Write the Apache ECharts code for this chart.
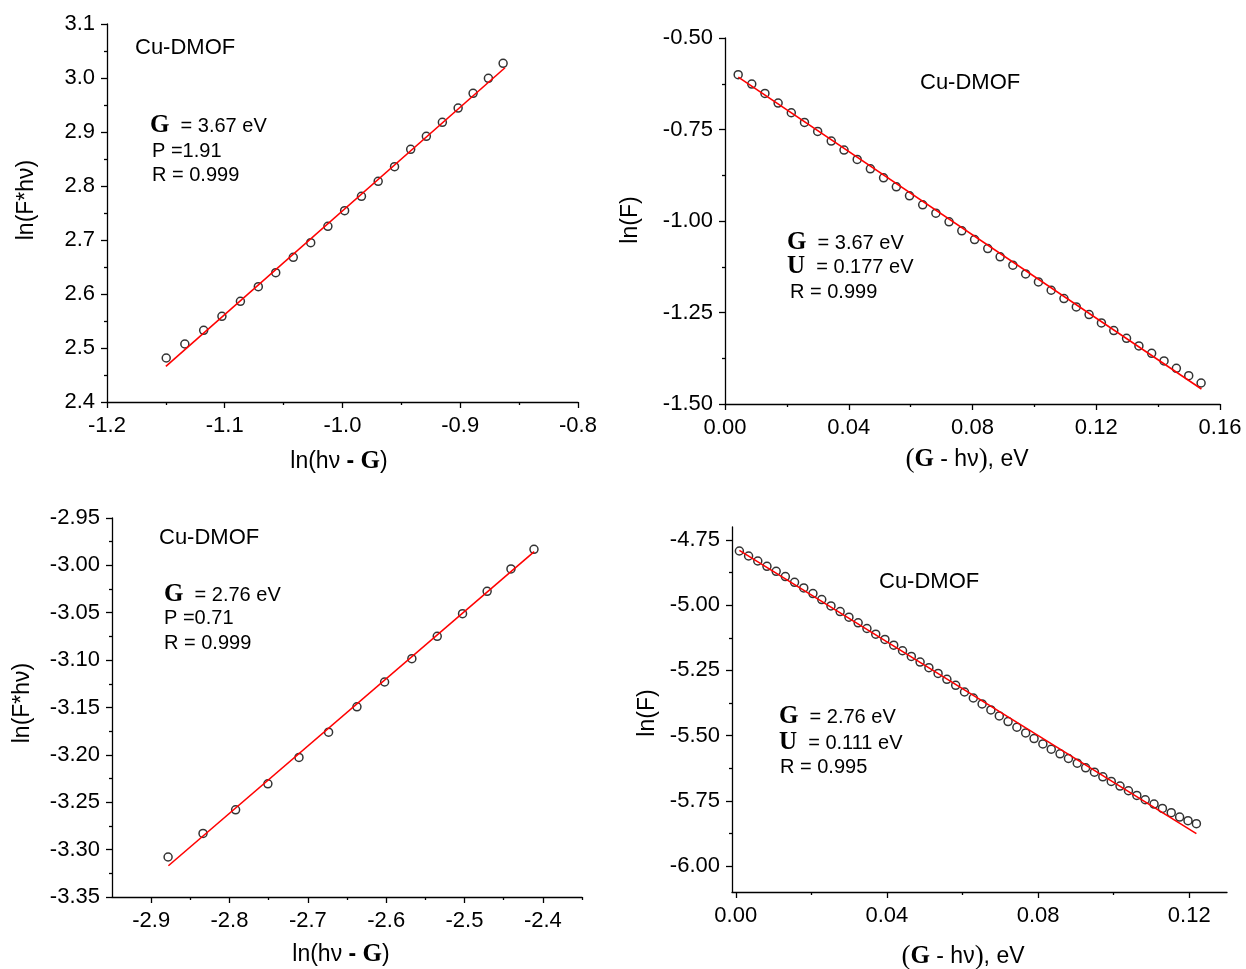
<!DOCTYPE html>
<html>
<head>
<meta charset="utf-8">
<script src="https://cdn.jsdelivr.net/npm/echarts@6/dist/echarts.min.js"></script>
<style>html,body{margin:0;padding:0;background:#fff;}#c{width:1246px;height:969px;}</style>
</head>
<body>
<div id="c"></div>
<script>
// ---------- Panel 1: ln(F*hv) vs ln(hv - G), G = 3.67 eV ----------
const p1X = [-1.1497,-1.1339,-1.1179,-1.1024,-1.0867,-1.0715,-1.0567,-1.0418,-1.0270,-1.0124,-0.9982,-0.9839,-0.9697,-0.9558,-0.9421,-0.9288,-0.9152,-0.9018,-0.8891,-0.8761,-0.8636];
const p1Y = [2.4815,2.5074,2.5327,2.5586,2.5864,2.6136,2.6395,2.6679,2.6951,2.7253,2.7543,2.7809,2.8086,2.8358,2.8679,2.8920,2.9179,2.9444,2.9716,2.9994,3.0272];
const p1FitX = [-1.150, -0.862];
const p1FitY = [2.466, 3.019];
const p1XTicks = [-1.2,-1.1,-1.0,-0.9,-0.8];
const p1XMinor = [-1.15,-1.05,-0.95,-0.85];
const p1YTicks = [2.4,2.5,2.6,2.7,2.8,2.9,3.0,3.1];
const p1YMinor = [2.45,2.55,2.65,2.75,2.85,2.95,3.05];

// ---------- Panel 2: ln(F) vs (G - hv), G = 3.67 eV ----------
const p2X = [0.00426,0.00865,0.01291,0.01717,0.02143,0.02569,0.02995,0.03434,0.03847,0.04273,0.04699,0.05125,0.05538,0.05964,0.06390,0.06816,0.07242,0.07654,0.08067,0.08493,0.08893,0.09305,0.09718,0.10131,0.10543,0.10956,0.11355,0.11768,0.12167,0.12567,0.12979,0.13379,0.13791,0.14191,0.14590,0.14989,0.15389];
const p2Y = [-0.6003,-0.6258,-0.6513,-0.6778,-0.7042,-0.7306,-0.7553,-0.7817,-0.8063,-0.8318,-0.8573,-0.8819,-0.9065,-0.9312,-0.9558,-0.9786,-1.0023,-1.0269,-1.0506,-1.0752,-1.0980,-1.1208,-1.1445,-1.1664,-1.1892,-1.2120,-1.2347,-1.2557,-1.2785,-1.2995,-1.3204,-1.3414,-1.3614,-1.3824,-1.4025,-1.4225,-1.4426];
const p2FitX = [0.0043, 0.1540];
const p2FitY = [-0.6067, -1.4590];
const p2XTicks = [0,0.04,0.08,0.12,0.16];
const p2XMinor = [0.02,0.06,0.10,0.14];
const p2YTicks = [-1.5,-1.25,-1.0,-0.75,-0.5];
const p2YMinor = [-1.375,-1.125,-0.875,-0.625];

// ---------- Panel 3: ln(F*hv) vs ln(hv - G), G = 2.76 eV ----------
const p3X = [-2.8784,-2.8338,-2.7922,-2.7510,-2.7113,-2.6735,-2.6373,-2.6020,-2.5672,-2.5348,-2.5025,-2.4711,-2.4407,-2.4113];
const p3Y = [-3.3078,-3.2829,-3.2580,-3.2305,-3.2027,-3.1760,-3.1493,-3.1231,-3.0985,-3.0749,-3.0510,-3.0274,-3.0038,-2.9830];
const p3FitX = [-2.878, -2.411];
const p3FitY = [-3.317, -2.9855];
const p3XTicks = [-2.9,-2.8,-2.7,-2.6,-2.5,-2.4];
const p3XMinor = [-2.85,-2.75,-2.65,-2.55,-2.45,-2.35];
const p3YTicks = [-3.35,-3.30,-3.25,-3.20,-3.15,-3.10,-3.05,-3.00,-2.95];
const p3YMinor = [-3.325,-3.275,-3.225,-3.175,-3.125,-3.075,-3.025,-2.975];

// ---------- Panel 4: ln(F) vs (G - hv), G = 2.76 eV ----------
const p4X = [0.00095,0.00339,0.00582,0.00825,0.01069,0.01312,0.01556,0.01799,0.02042,0.02275,0.02519,0.02762,0.02995,0.03238,0.03471,0.03704,0.03947,0.04180,0.04413,0.04646,0.04878,0.05111,0.05354,0.05587,0.05820,0.06053,0.06286,0.06519,0.06751,0.06974,0.07206,0.07439,0.07672,0.07894,0.08127,0.08349,0.08582,0.08804,0.09037,0.09259,0.09492,0.09714,0.09937,0.10169,0.10392,0.10614,0.10836,0.11069,0.11291,0.11524,0.11746,0.11968,0.12190];
const p4Y = [-4.7921,-4.8112,-4.8304,-4.8508,-4.8699,-4.8903,-4.9120,-4.9337,-4.9554,-4.9783,-5.0026,-5.0242,-5.0459,-5.0676,-5.0893,-5.1110,-5.1314,-5.1531,-5.1747,-5.1964,-5.2181,-5.2398,-5.2615,-5.2844,-5.3074,-5.3329,-5.3559,-5.3788,-5.4018,-5.4247,-5.4464,-5.4681,-5.4898,-5.5115,-5.5319,-5.5523,-5.5702,-5.5880,-5.6059,-5.6237,-5.6403,-5.6582,-5.6760,-5.6939,-5.7117,-5.7296,-5.7462,-5.7628,-5.7793,-5.7959,-5.8125,-5.8265,-5.8380];
const p4FitX = [0.00095, 0.1219];
const p4FitY = [-4.7895, -5.8760];
const p4XTicks = [0,0.04,0.08,0.12];
const p4XMinor = [0.02,0.06,0.10];
const p4YTicks = [-6.0,-5.75,-5.5,-5.25,-5.0,-4.75];
const p4YMinor = [-5.875,-5.625,-5.375,-5.125,-4.875];

const SANS = 'Liberation Sans';
const SERIF = 'Liberation Serif';

const panels = [
  {grid:{left:107, top:24, width:471, height:378}, x:[-1.2,-0.8], y:[2.4,3.1],
   xt:p1XTicks, xm:p1XMinor, yt:p1YTicks, ym:p1YMinor, xd:1, yd:1, X:p1X, Y:p1Y, fx:p1FitX, fy:p1FitY},
  {grid:{left:725, top:38, width:495, height:366}, x:[0,0.16], y:[-1.5,-0.5],
   xt:p2XTicks, xm:p2XMinor, yt:p2YTicks, ym:p2YMinor, xd:2, yd:2, X:p2X, Y:p2Y, fx:p2FitX, fy:p2FitY},
  {grid:{left:112, top:518, width:470, height:379}, x:[-2.95,-2.35], y:[-3.35,-2.95],
   xt:p3XTicks, xm:p3XMinor, yt:p3YTicks, ym:p3YMinor, xd:1, yd:2, X:p3X, Y:p3Y, fx:p3FitX, fy:p3FitY},
  {grid:{left:732, top:527, width:495, height:365}, x:[-0.001,0.130], y:[-6.10,-4.70],
   xt:p4XTicks, xm:p4XMinor, yt:p4YTicks, ym:p4YMinor, xd:2, yd:2, X:p4X, Y:p4Y, fx:p4FitX, fy:p4FitY}
];

const lineStyle = {color:'#000', width:1.3};
function axes(gi, dim, range, major, minor, dec) {
  const pos = dim === 'x' ? 'bottom' : 'left';
  const main = {
    type:'value', gridIndex:gi, position:pos, min:range[0], max:range[1],
    axisLine:{show:true, onZero:false, lineStyle:lineStyle},
    axisTick:{show:true, inside:false, length:6, lineStyle:lineStyle, customValues:major},
    axisLabel:{show:true, customValues:major, margin: dim === 'x' ? 13 : 12,
      fontFamily:SANS, fontSize:22, color:'#000',
      formatter:function(v){ return v.toFixed(dec); }},
    splitLine:{show:false}
  };
  const sub = {
    type:'value', gridIndex:gi, position:pos, min:range[0], max:range[1],
    axisLine:{show:false, onZero:false},
    axisTick:{show:true, inside:false, length:3, lineStyle:lineStyle, customValues:minor},
    axisLabel:{show:false},
    splitLine:{show:false}
  };
  return [main, sub];
}

const grids = [], xAxes = [], yAxes = [], series = [];
panels.forEach(function(p, i){
  grids.push(Object.assign({containLabel:false}, p.grid));
  xAxes.push.apply(xAxes, axes(i, 'x', p.x, p.xt, p.xm, p.xd));
  yAxes.push.apply(yAxes, axes(i, 'y', p.y, p.yt, p.ym, p.yd));
  series.push({
    type:'scatter', xAxisIndex:2*i, yAxisIndex:2*i,
    data:p.X.map(function(v,k){ return [v, p.Y[k]]; }),
    symbol:'circle', symbolSize:8,
    itemStyle:{color:'rgba(255,255,255,0)', borderColor:'#000', borderWidth:1.5},
    z:2
  });
  series.push({
    type:'line', xAxisIndex:2*i, yAxisIndex:2*i,
    data:p.fx.map(function(v,k){ return [v, p.fy[k]]; }),
    showSymbol:false, symbol:'none',
    lineStyle:{color:'#ff0000', width:1.6},
    z:3
  });
});

const richBase = {
  g:{fontFamily:SERIF, fontWeight:'bold', fontSize:25, fill:'#000'},
  p:{fontFamily:SERIF, fontSize:27, fill:'#000'},
  d:{fontFamily:SANS, fontWeight:'bold', fontSize:23, fill:'#000'}
};
function txt(x, y, text, size, opts) {
  opts = opts || {};
  return {
    type:'text', x:x, y:y, rotation: opts.rot || 0, z:10,
    style:{
      text:text, font: size + 'px "' + SANS + '"', fill:'#000',
      align: opts.align || 'left', verticalAlign:'middle',
      textAlign: opts.align || 'left', textVerticalAlign:'middle',
      rich: richBase
    }
  };
}

const graphics = [
  // panel 1
  txt(135, 48, 'Cu-DMOF', 22),
  txt(150, 126, '{g|G}  = 3.67 eV', 20),
  txt(152, 151, 'P =1.91', 20),
  txt(152, 175, 'R = 0.999', 20),
  txt(339, 462, 'ln(hν {d|-} {g|G})', 23, {align:'center'}),
  txt(27, 200, 'ln(F*hν)', 23, {align:'center', rot:Math.PI/2}),
  // panel 2
  txt(920, 83, 'Cu-DMOF', 22),
  txt(787, 243, '{g|G}  = 3.67 eV', 20),
  txt(787, 267, '{g|U}  = 0.177 eV', 20),
  txt(790, 292, 'R = 0.999', 20),
  txt(967, 460, '{p|(}{g|G} - hν{p|)}, eV', 23, {align:'center'}),
  txt(631, 220, 'ln(F)', 23, {align:'center', rot:Math.PI/2}),
  // panel 3
  txt(159, 538, 'Cu-DMOF', 22),
  txt(164, 595, '{g|G}  = 2.76 eV', 20),
  txt(164, 618, 'P =0.71', 20),
  txt(164, 643, 'R = 0.999', 20),
  txt(341, 955, 'ln(hν {d|-} {g|G})', 23, {align:'center'}),
  txt(23, 703, 'ln(F*hν)', 23, {align:'center', rot:Math.PI/2}),
  // panel 4
  txt(879, 582, 'Cu-DMOF', 22),
  txt(779, 717, '{g|G}  = 2.76 eV', 20),
  txt(779, 743, '{g|U}  = 0.111 eV', 20),
  txt(780, 767, 'R = 0.995', 20),
  txt(963, 957, '{p|(}{g|G} - hν{p|)}, eV', 23, {align:'center'}),
  txt(648, 713, 'ln(F)', 23, {align:'center', rot:Math.PI/2})
];

const chart = echarts.init(document.getElementById('c'), null, {renderer:'canvas'});
chart.setOption({
  backgroundColor:'#ffffff',
  animation:false,
  grid:grids,
  xAxis:xAxes,
  yAxis:yAxes,
  series:series,
  graphic:graphics
});
</script>
</body>
</html>
